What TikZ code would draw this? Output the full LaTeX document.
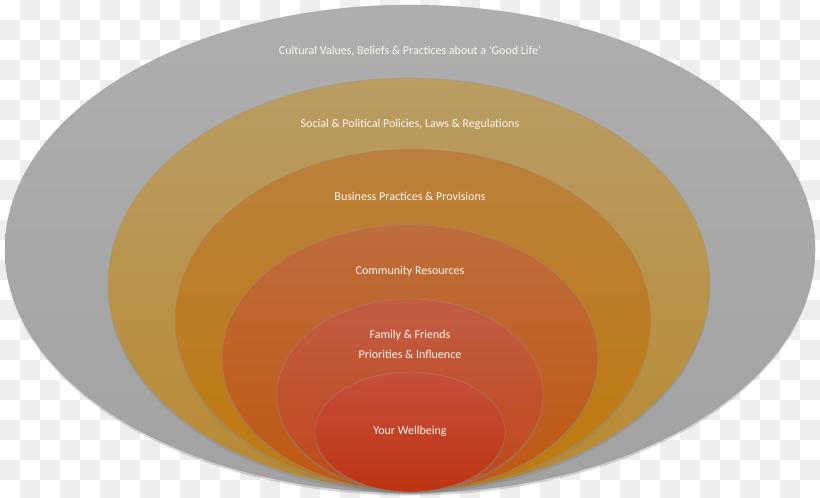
\documentclass[tikz,border=0pt]{standalone}
\usepackage{fontspec}
\setmainfont{Carlito}
\usetikzlibrary{shadows}
\definecolor{CheckGray}{RGB}{238,238,238}
\definecolor{RingLabel}{RGB}{252,248,240}

\begin{document}
\begin{tikzpicture}[x=1pt,y=-1pt,
ring/.style n args={2}{top color=#1,bottom color=#2,draw=black!40,draw opacity=0.45,line width=0.6pt,drop shadow={shadow xshift=0pt,shadow yshift=-2.5pt,opacity=0.3}},
lbl/.style={text=RingLabel,font=\fontsize{12}{14}\selectfont,inner sep=0pt}]
\useasboundingbox (0,0) rectangle (820,498);
% transparency checkerboard
\fill[white] (0,0) rectangle (820,498);
\foreach \i in {0,...,40} {
   \foreach \j in {0,...,24} {
      \pgfmathtruncatemacro{\odd}{mod(\i+\j,2)}
      \ifnum\odd=1 \fill[CheckGray] (\i*20,\j*20) rectangle +(20,20); \fi
   }
}
% nested rings, all resting on the bottom edge
\foreach \cx/\cy/\rx/\ry/\top/\bot in %
{410/249/405/244/{rgb,255:red,174;green,174;blue,174}/{rgb,255:red,162;green,162;blue,162},
 409/284/301/206/{rgb,255:red,185;green,157;blue,100}/{rgb,255:red,185;green,137;blue,50},
 413/320/238/171/{rgb,255:red,186;green,128;blue,60}/{rgb,255:red,192;green,122;blue,12},
 410/358/188/133/{rgb,255:red,190;green,108;blue,60}/{rgb,255:red,192;green,88;blue,18},
 410/395/133/96/{rgb,255:red,194;green,92;blue,70}/{rgb,255:red,192;green,72;blue,22},
 410/432/95/60/{rgb,255:red,198;green,80;blue,62}/{rgb,255:red,190;green,52;blue,16}} {
   \path[ring={\top}{\bot}] (\cx,\cy) ellipse [x radius=\rx, y radius=\ry];
}
\node[lbl] (culture) at (410,51) {Cultural Values, Beliefs \& Practices about a ‘Good Life’};
\node[lbl] (policy) at (410,124) {Social \& Political Policies, Laws \& Regulations};
\node[lbl] (business) at (410,196) {Business Practices \& Provisions};
\node[lbl] (community) at (410,271) {Community Resources};
\node[lbl] (family) at (410,335) {Family \& Friends};
\node[lbl] (priority) at (410,354) {Priorities \& Influence};
\node[lbl] (self) at (410,431) {Your Wellbeing};
\end{tikzpicture}
\end{document}
